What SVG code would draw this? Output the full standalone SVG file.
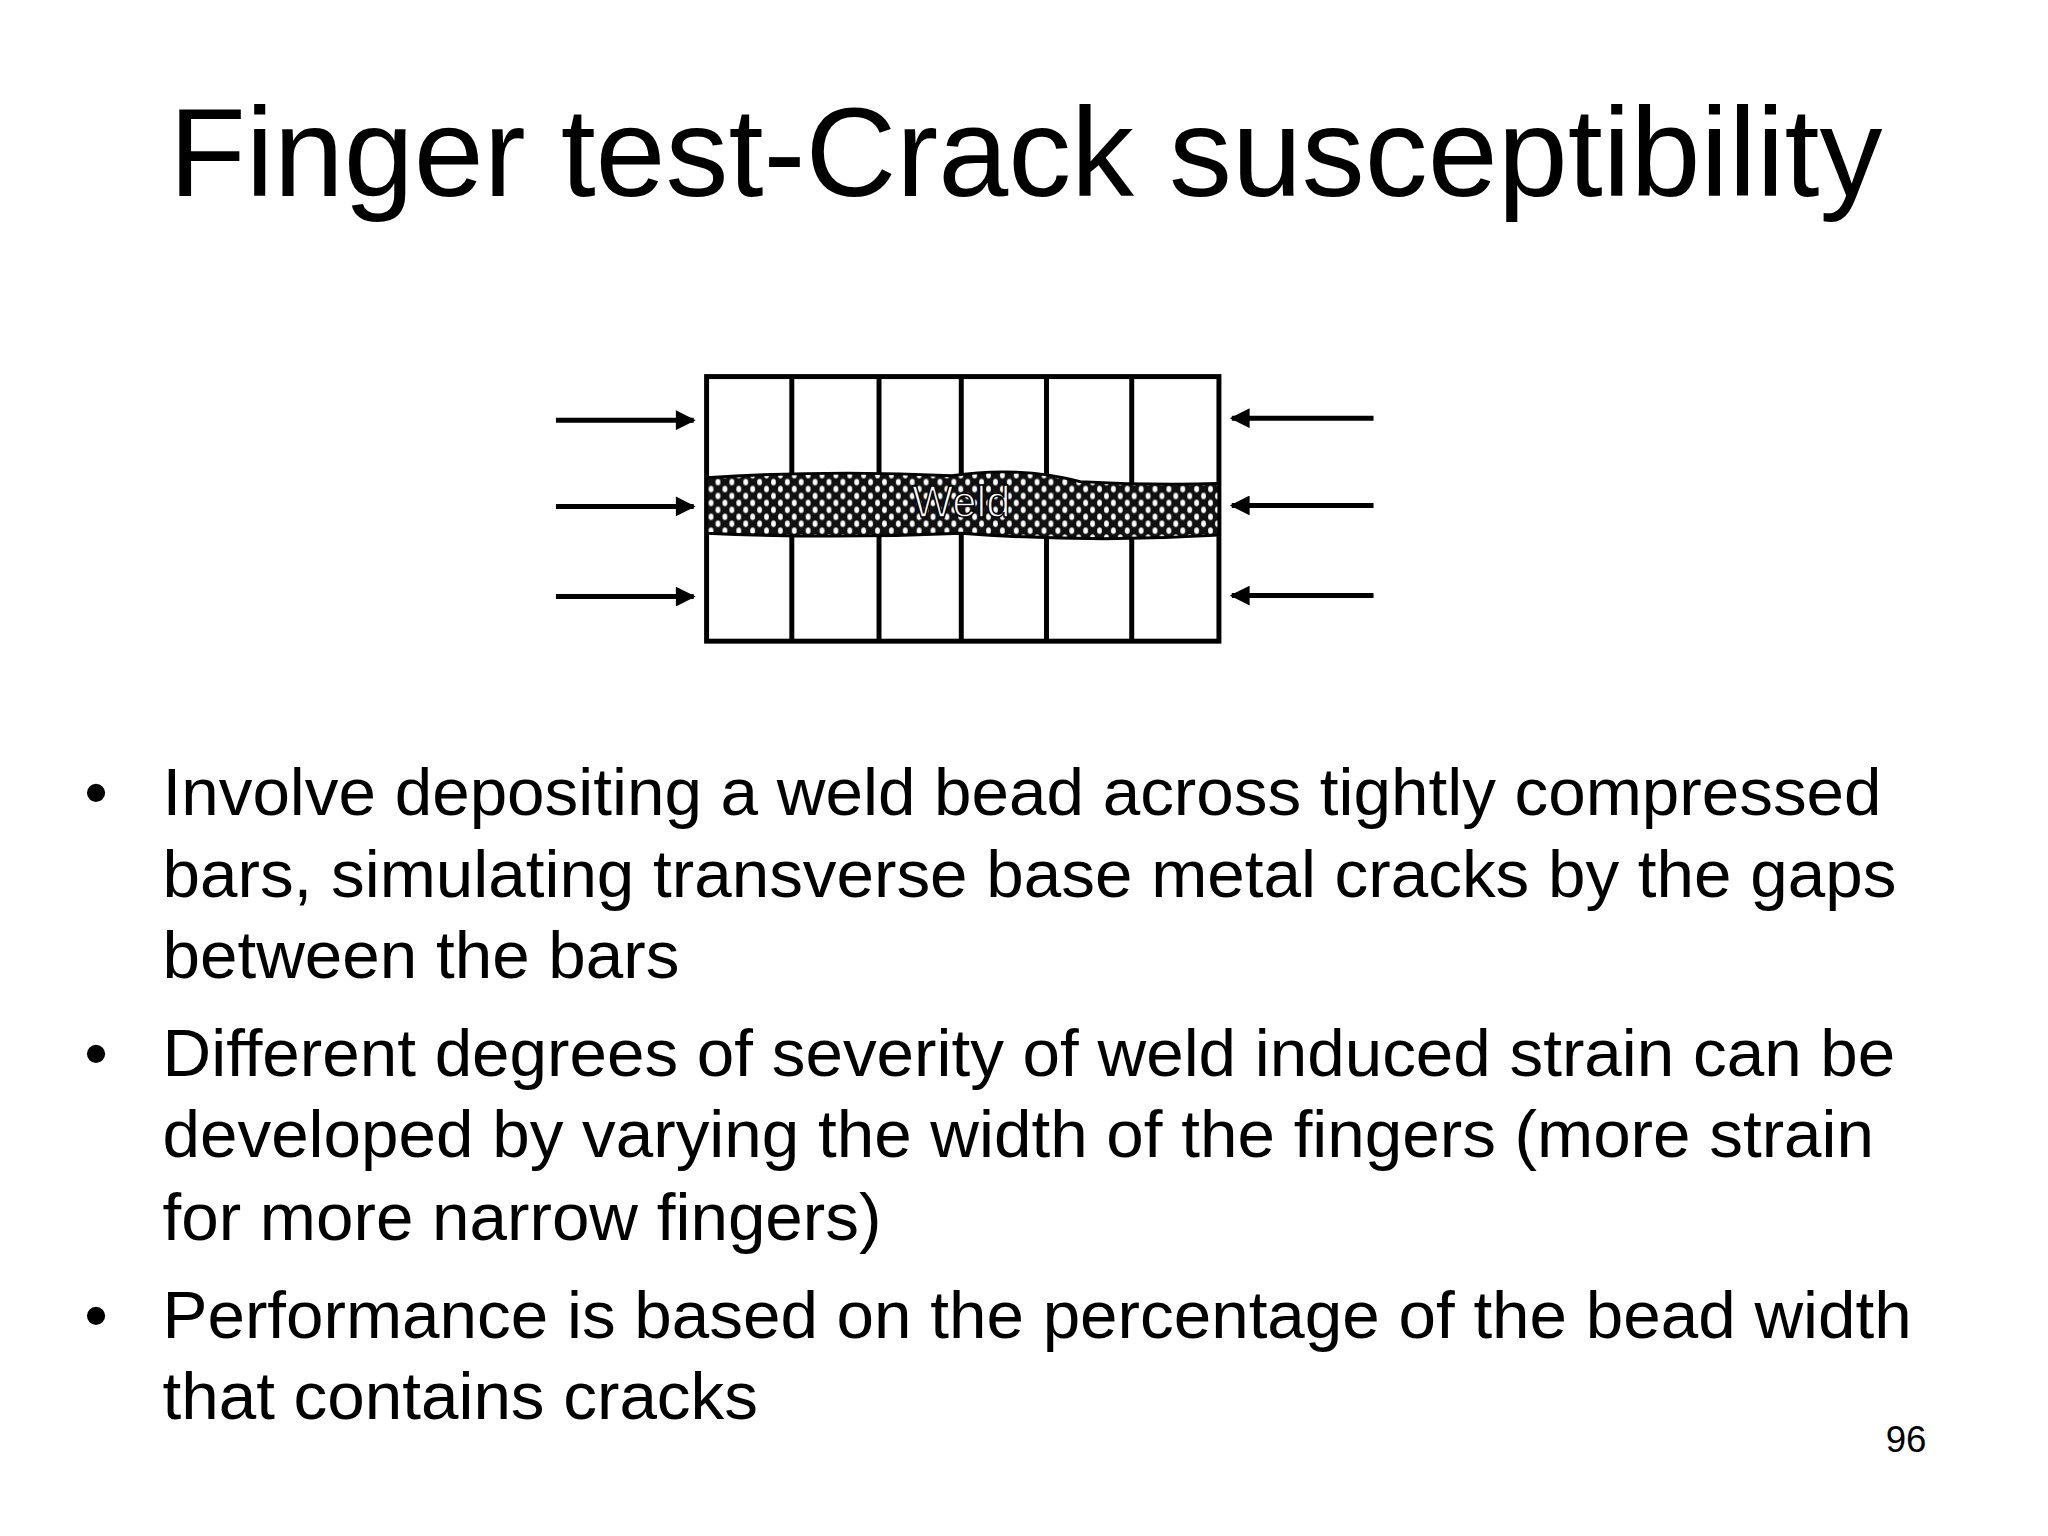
<svg xmlns="http://www.w3.org/2000/svg" width="2048" height="1536" viewBox="0 0 2048 1536">
<style>
text{font-family:"Liberation Sans",Arial,sans-serif;fill:#000}
.b{font-size:68px}
.ln{stroke:#000;stroke-width:5;fill:none}
.ar{stroke:#000;stroke-width:5;marker-end:url(#ah)}
</style>
<defs>
<marker id="ah" viewBox="0 0 10 10" refX="9" refY="5" markerWidth="5" markerHeight="4" orient="auto"><path d="M0,0L10,5L0,10z" fill="#000"/></marker>
<pattern id="hx" width="14" height="14" patternUnits="userSpaceOnUse">
<rect width="14" height="14" fill="#111"/>
<ellipse cx="3.5" cy="3.5" rx="2.4" ry="3.2" fill="#fff"/>
<ellipse cx="10.5" cy="10.5" rx="2.4" ry="3.2" fill="#fff"/>
</pattern>
</defs>
<rect width="2048" height="1536" fill="#fff"/>
<g transform="scale(0.991)">
<text x="1035" y="198" font-size="127" text-anchor="middle">Finger test-Crack susceptibility</text>
<g id="specimen">
<rect x="713" y="380" width="517" height="267" class="ln"/>
<path class="ln" d="M799 380V647M887 380V647M970 380V647M1056 380V647M1142 380V647"/>
<path d="M713 482 Q840 474 960 480 Q1030 470 1090 486 Q1160 490 1230 488 L1230 540 Q1100 548 970 538 Q840 544 713 538Z" fill="url(#hx)" stroke="#000" stroke-width="3"/>
<text x="970" y="522" font-size="44" text-anchor="middle" style="fill:#fff" stroke="#000" stroke-width="1.5">Weld</text>
</g>
<g id="connectors">
<line class="ar" x1="561" y1="424" x2="700" y2="424"/>
<line class="ar" x1="561" y1="511" x2="700" y2="511"/>
<line class="ar" x1="561" y1="602" x2="700" y2="602"/>
<line class="ar" x1="1386" y1="422" x2="1243" y2="422"/>
<line class="ar" x1="1386" y1="510" x2="1243" y2="510"/>
<line class="ar" x1="1386" y1="601" x2="1243" y2="601"/>
</g>
<g id="bullets">
<text class="b" x="85" y="822">•</text>
<text class="b" x="164" y="822">Involve depositing a weld bead across tightly compressed</text>
<text class="b" x="164" y="905">bars, simulating transverse base metal cracks by the gaps</text>
<text class="b" x="164" y="987">between the bars</text>
<text class="b" x="85" y="1086">•</text>
<text class="b" x="164" y="1086">Different degrees of severity of weld induced strain can be</text>
<text class="b" x="164" y="1168">developed by varying the width of the fingers (more strain</text>
<text class="b" x="164" y="1251">for more narrow fingers)</text>
<text class="b" x="85" y="1350">•</text>
<text class="b" x="164" y="1350">Performance is based on the percentage of the bead width</text>
<text class="b" x="164" y="1432">that contains cracks</text>
</g>
<text x="1944" y="1465" font-size="37" text-anchor="end">96</text>
</g>
</svg>
